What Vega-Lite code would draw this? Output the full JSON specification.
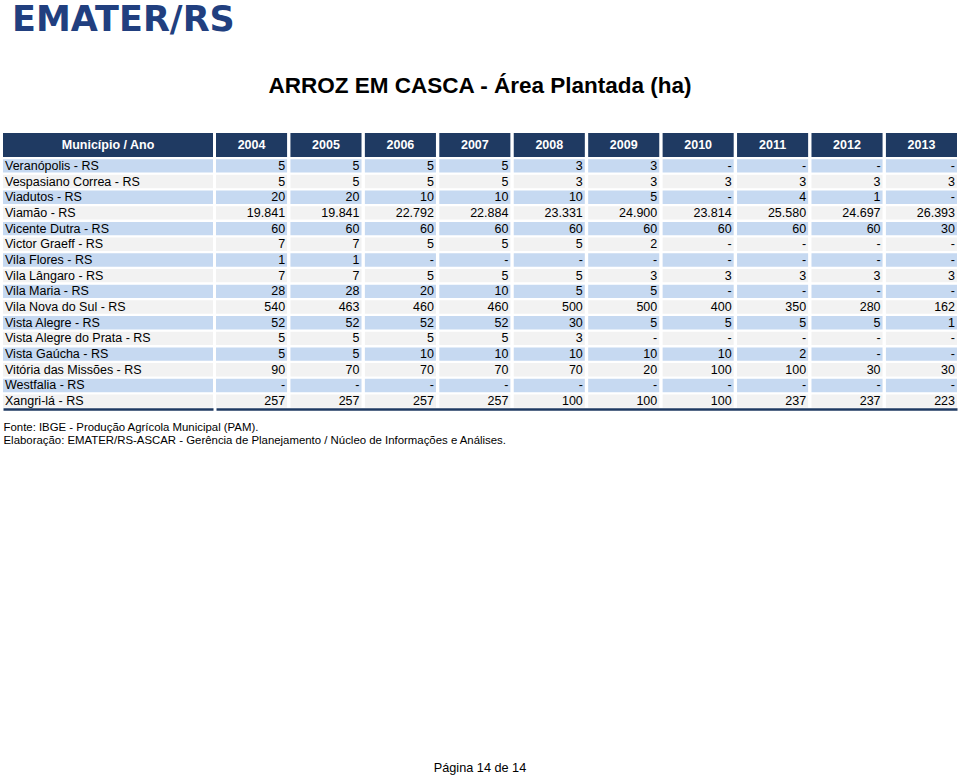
{
  "$schema": "https://vega.github.io/schema/vega-lite/v6.json",
  "background": "white",
  "padding": {"left": 3, "top": 2, "right": 3, "bottom": 0},
  "config": {
    "font": "Liberation Sans",
    "view": {"stroke": null},
    "locale": {"number": {"decimal": ",", "thousands": ".", "grouping": [3], "currency": ["R$ ", ""]}}
  },
  "title": {
    "text": "EMATER/RS",
    "anchor": "start",
    "font": "DejaVu Sans",
    "fontSize": 35,
    "fontWeight": "bold",
    "color": "#213f7f",
    "dx": 9,
    "offset": 37
  },
  "datasets": {
    "areas": [
      {"municipio": "Veranópolis - RS", "2004": 5, "2005": 5, "2006": 5, "2007": 5, "2008": 3, "2009": 3, "2010": null, "2011": null, "2012": null, "2013": null},
      {"municipio": "Vespasiano Correa - RS", "2004": 5, "2005": 5, "2006": 5, "2007": 5, "2008": 3, "2009": 3, "2010": 3, "2011": 3, "2012": 3, "2013": 3},
      {"municipio": "Viadutos - RS", "2004": 20, "2005": 20, "2006": 10, "2007": 10, "2008": 10, "2009": 5, "2010": null, "2011": 4, "2012": 1, "2013": null},
      {"municipio": "Viamão - RS", "2004": 19841, "2005": 19841, "2006": 22792, "2007": 22884, "2008": 23331, "2009": 24900, "2010": 23814, "2011": 25580, "2012": 24697, "2013": 26393},
      {"municipio": "Vicente Dutra - RS", "2004": 60, "2005": 60, "2006": 60, "2007": 60, "2008": 60, "2009": 60, "2010": 60, "2011": 60, "2012": 60, "2013": 30},
      {"municipio": "Victor Graeff - RS", "2004": 7, "2005": 7, "2006": 5, "2007": 5, "2008": 5, "2009": 2, "2010": null, "2011": null, "2012": null, "2013": null},
      {"municipio": "Vila Flores - RS", "2004": 1, "2005": 1, "2006": null, "2007": null, "2008": null, "2009": null, "2010": null, "2011": null, "2012": null, "2013": null},
      {"municipio": "Vila Lângaro - RS", "2004": 7, "2005": 7, "2006": 5, "2007": 5, "2008": 5, "2009": 3, "2010": 3, "2011": 3, "2012": 3, "2013": 3},
      {"municipio": "Vila Maria - RS", "2004": 28, "2005": 28, "2006": 20, "2007": 10, "2008": 5, "2009": 5, "2010": null, "2011": null, "2012": null, "2013": null},
      {"municipio": "Vila Nova do Sul - RS", "2004": 540, "2005": 463, "2006": 460, "2007": 460, "2008": 500, "2009": 500, "2010": 400, "2011": 350, "2012": 280, "2013": 162},
      {"municipio": "Vista Alegre - RS", "2004": 52, "2005": 52, "2006": 52, "2007": 52, "2008": 30, "2009": 5, "2010": 5, "2011": 5, "2012": 5, "2013": 1},
      {"municipio": "Vista Alegre do Prata - RS", "2004": 5, "2005": 5, "2006": 5, "2007": 5, "2008": 3, "2009": null, "2010": null, "2011": null, "2012": null, "2013": null},
      {"municipio": "Vista Gaúcha - RS", "2004": 5, "2005": 5, "2006": 10, "2007": 10, "2008": 10, "2009": 10, "2010": 10, "2011": 2, "2012": null, "2013": null},
      {"municipio": "Vitória das Missões - RS", "2004": 90, "2005": 70, "2006": 70, "2007": 70, "2008": 70, "2009": 20, "2010": 100, "2011": 100, "2012": 30, "2013": 30},
      {"municipio": "Westfalia - RS", "2004": null, "2005": null, "2006": null, "2007": null, "2008": null, "2009": null, "2010": null, "2011": null, "2012": null, "2013": null},
      {"municipio": "Xangri-lá - RS", "2004": 257, "2005": 257, "2006": 257, "2007": 257, "2008": 100, "2009": 100, "2010": 100, "2011": 237, "2012": 237, "2013": 223}
    ],
    "anos": [
      {"ano": "2004"}, {"ano": "2005"}, {"ano": "2006"}, {"ano": "2007"}, {"ano": "2008"},
      {"ano": "2009"}, {"ano": "2010"}, {"ano": "2011"}, {"ano": "2012"}, {"ano": "2013"}
    ]
  },
  "spacing": 312,
  "vconcat": [
    {
      "title": {
        "text": "ARROZ EM CASCA - Área Plantada (ha)",
        "font": "Liberation Sans",
        "fontSize": 22.5,
        "fontWeight": "bold",
        "color": "#000000",
        "anchor": "middle",
        "offset": 36
      },
      "spacing": 1,
      "vconcat": [
        {
          "spacing": 3,
          "hconcat": [
            {
              "width": 210,
              "height": 24,
              "data": {"values": [{"coluna": "Município / Ano"}]},
              "layer": [
                {
                  "mark": {"type": "rect", "fill": "#1f3a62"},
                  "encoding": {
                    "x": {"field": "coluna", "type": "nominal", "axis": null, "scale": {"paddingInner": 0, "paddingOuter": 0}}
                  }
                },
                {
                  "mark": {"type": "text", "color": "white", "fontWeight": "bold", "fontSize": 12.5},
                  "encoding": {
                    "x": {"field": "coluna", "type": "nominal", "axis": null},
                    "text": {"field": "coluna"}
                  }
                }
              ]
            },
            {
              "width": 741,
              "height": 24,
              "data": {"name": "anos"},
              "layer": [
                {
                  "mark": {"type": "rect", "fill": "#1f3a62"},
                  "encoding": {
                    "x": {"field": "ano", "type": "nominal", "axis": null, "scale": {"paddingInner": 0.045, "paddingOuter": 0}}
                  }
                },
                {
                  "mark": {"type": "text", "color": "white", "fontWeight": "bold", "fontSize": 12.5},
                  "encoding": {
                    "x": {"field": "ano", "type": "nominal", "axis": null},
                    "text": {"field": "ano"}
                  }
                }
              ]
            }
          ]
        },
        {
          "spacing": 3,
          "bounds": "flush",
          "hconcat": [
            {
              "width": 210,
              "height": 251,
              "data": {"name": "areas"},
              "transform": [{"window": [{"op": "row_number", "as": "linha"}]}],
              "encoding": {
                "x": {
                  "datum": 0,
                  "type": "quantitative",
                  "scale": {"domain": [0, 1], "nice": false, "zero": false},
                  "axis": {
                    "orient": "bottom",
                    "domain": true,
                    "domainColor": "#1f3a62",
                    "domainWidth": 2.5,
                    "labels": false,
                    "ticks": false,
                    "grid": false,
                    "title": ["Fonte:  IBGE - Produção Agrícola Municipal (PAM).", "Elaboração: EMATER/RS-ASCAR - Gerência de Planejamento / Núcleo de Informações e Análises."],
                    "titleAnchor": "start",
                    "titleAlign": "left",
                    "titleFontSize": 11.4,
                    "titleFontWeight": "normal",
                    "titleColor": "#000000",
                    "titlePadding": 12,
                    "titleLimit": 1000,
                    "titleLineHeight": 13
                  }
                },
                "y": {"field": "municipio", "type": "nominal", "sort": null, "axis": null, "scale": {"paddingInner": 0.15, "paddingOuter": 0.075}}
              },
              "layer": [
                {
                  "mark": {"type": "rect"},
                  "encoding": {
                    "x": null,
                    "fill": {"condition": {"test": "datum.linha % 2 == 1", "value": "#c6d9f1"}, "value": "#f2f2f2"}
                  }
                },
                {
                  "mark": {"type": "text", "align": "left", "dx": 2, "fontSize": 12.5, "color": "#000000"},
                  "encoding": {
                    "text": {"field": "municipio"}
                  }
                }
              ]
            },
            {
              "width": 741,
              "height": 251,
              "data": {"name": "areas"},
              "transform": [
                {"window": [{"op": "row_number", "as": "linha"}]},
                {"fold": ["2004", "2005", "2006", "2007", "2008", "2009", "2010", "2011", "2012", "2013"], "as": ["ano", "area"]}
              ],
              "encoding": {
                "x": {
                  "field": "ano",
                  "type": "nominal",
                  "scale": {"paddingInner": 0.045, "paddingOuter": 0},
                  "axis": {
                    "orient": "bottom",
                    "domain": true,
                    "domainColor": "#1f3a62",
                    "domainWidth": 2.5,
                    "labels": false,
                    "ticks": false,
                    "grid": false,
                    "title": null
                  }
                },
                "y": {"field": "municipio", "type": "nominal", "sort": null, "axis": null, "scale": {"paddingInner": 0.15, "paddingOuter": 0.075}}
              },
              "layer": [
                {
                  "mark": {"type": "rect"},
                  "encoding": {
                    "fill": {"condition": {"test": "datum.linha % 2 == 1", "value": "#c6d9f1"}, "value": "#f2f2f2"}
                  }
                },
                {
                  "mark": {"type": "text", "align": "right", "dx": -2, "fontSize": 12.5, "color": "#000000"},
                  "encoding": {
                    "x": {"field": "ano", "type": "nominal", "bandPosition": 1},
                    "text": {"condition": {"test": "datum.area == null", "value": "-"}, "field": "area", "type": "quantitative", "format": ",d"}
                  }
                }
              ]
            }
          ]
        }
      ]
    },
    {
      "width": 954,
      "height": 20,
      "data": {"values": [{"pagina": "Página 14 de 14"}]},
      "mark": {"type": "text", "fontSize": 12.7, "color": "#000000"},
      "encoding": {"text": {"field": "pagina"}}
    }
  ]
}
